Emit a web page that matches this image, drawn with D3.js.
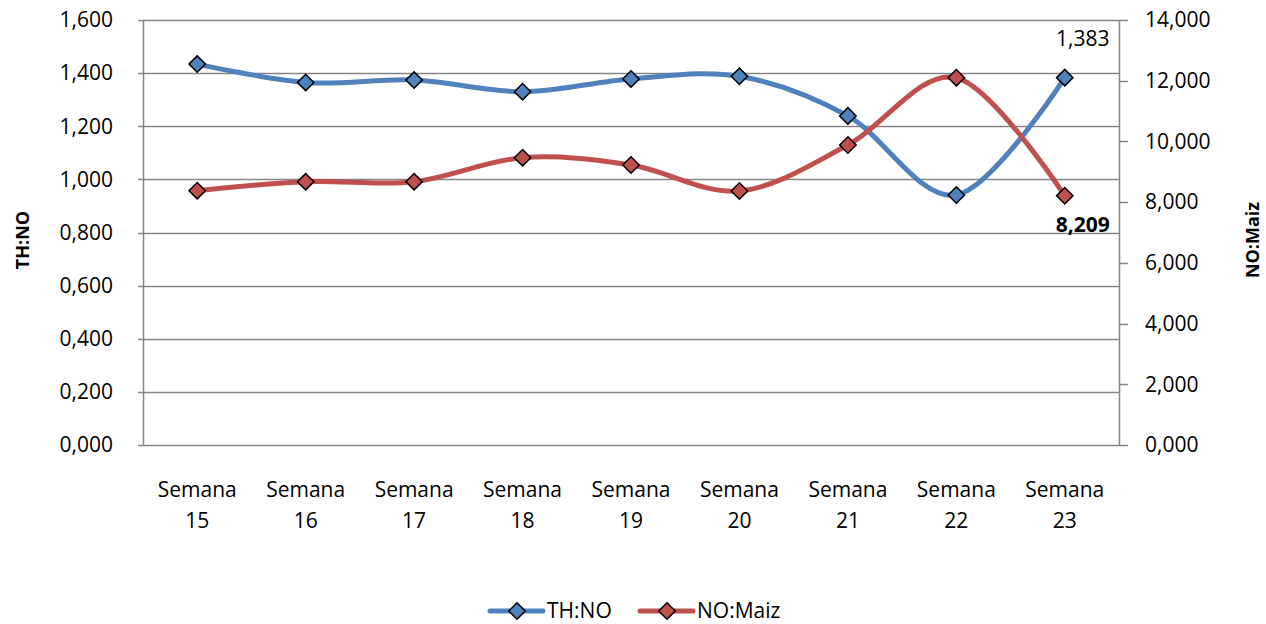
<!DOCTYPE html>
<html lang="en">
<head>
	<meta http-equiv="Content-type" content="text/html" charset="UTF-8">
	<title>TH:NO / NO:Maiz</title>
	<script src="https://d3js.org/d3.v7.min.js"></script>
	<style>
		html, body {
			margin: 0;
			padding: 0;
			background: #fff;
		}
		body {
			width: 1266px;
			height: 624px;
			overflow: hidden;
			font-family: 'Open Sans', 'Noto Sans', sans-serif;
		}
		.tick-label {
			font-size: 21px;
			fill: #000;
		}
		.axis-title {
			font-size: 18px;
			font-weight: 700;
			fill: #000;
		}
		.grid line {
			stroke: #868686;
			stroke-width: 1.5px;
		}
	</style>
</head>
<body>
	<div id="chart"></div>
	<script>

	// data
	var categories = ['15', '16', '17', '18', '19', '20', '21', '22', '23'];
	var thNo = [1.434, 1.365, 1.374, 1.330, 1.378, 1.388, 1.239, 0.941, 1.383];
	var noMaiz = [8377, 8674, 8674, 9464, 9224, 8367, 9882, 12099, 8209];
	var leftTicks = [0, 0.2, 0.4, 0.6, 0.8, 1.0, 1.2, 1.4, 1.6];
	var leftTickLabels = ['0,000', '0,200', '0,400', '0,600', '0,800', '1,000', '1,200', '1,400', '1,600'];
	var rightTicks = [0, 2000, 4000, 6000, 8000, 10000, 12000, 14000];
	var rightTickLabels = ['0,000', '2,000', '4,000', '6,000', '8,000', '10,000', '12,000', '14,000'];

	var width = 1266,
	    height = 624;

	var plot = {left: 143, right: 1119, top: 20, bottom: 445};

	var blue = '#4f81bd',
	    red = '#c0504d',
	    axisGrey = '#868686';

	var svg = d3.select('#chart')
	.append('svg')
	.attr('width', width)
	.attr('height', height);

	var x = d3.scaleBand()
	.domain(categories)
	.range([plot.left, plot.right]);

	var yLeft = d3.scaleLinear()
	.domain([0, 1.6])
	.range([plot.bottom, plot.top]);

	var yRight = d3.scaleLinear()
	.domain([0, 14000])
	.range([plot.bottom, plot.top]);

	// gridlines (left axis ticks)
	var grid = svg.append('g').attr('class', 'grid');
	grid.selectAll('line')
	.data(leftTicks)
	.enter().append('line')
	.attr('x1', plot.left - 5)
	.attr('x2', plot.right)
	.attr('y1', function(d) { return Math.round(yLeft(d)) + 0.5; })
	.attr('y2', function(d) { return Math.round(yLeft(d)) + 0.5; });

	// left axis line
	svg.append('line')
	.attr('x1', plot.left + 0.5).attr('x2', plot.left + 0.5)
	.attr('y1', plot.top).attr('y2', plot.bottom + 0.5)
	.attr('stroke', axisGrey).attr('stroke-width', 1.5);

	// right axis line + ticks
	svg.append('line')
	.attr('x1', plot.right + 0.5).attr('x2', plot.right + 0.5)
	.attr('y1', plot.top).attr('y2', plot.bottom + 0.5)
	.attr('stroke', axisGrey).attr('stroke-width', 1.5);

	svg.append('g').selectAll('line')
	.data(rightTicks)
	.enter().append('line')
	.attr('x1', plot.right)
	.attr('x2', plot.right + 9)
	.attr('y1', function(d) { return Math.round(yRight(d)) + 0.5; })
	.attr('y2', function(d) { return Math.round(yRight(d)) + 0.5; })
	.attr('stroke', axisGrey).attr('stroke-width', 1.5);

	// left tick labels
	svg.append('g').selectAll('text')
	.data(leftTicks)
	.enter().append('text')
	.attr('class', 'tick-label')
	.attr('x', 113)
	.attr('y', function(d) { return yLeft(d); })
	.attr('dy', '0.35em')
	.attr('text-anchor', 'end')
	.text(function(d, i) { return leftTickLabels[i]; });

	// right tick labels
	svg.append('g').selectAll('text')
	.data(rightTicks)
	.enter().append('text')
	.attr('class', 'tick-label')
	.attr('x', 1145)
	.attr('y', function(d) { return yRight(d); })
	.attr('dy', '0.35em')
	.text(function(d, i) { return rightTickLabels[i]; });

	// category labels
	var catLabels = svg.append('g').selectAll('text')
	.data(categories)
	.enter().append('text')
	.attr('class', 'tick-label')
	.attr('text-anchor', 'middle')
	.attr('x', function(d) { return x(d) + x.bandwidth() / 2; })
	.attr('y', 497);
	catLabels.append('tspan').text('Semana');
	catLabels.append('tspan')
	.attr('x', function(d) { return x(d) + x.bandwidth() / 2; })
	.attr('dy', 31)
	.text(function(d) { return d; });

	// axis titles
	svg.append('text')
	.attr('class', 'axis-title')
	.attr('transform', 'translate(29,240) rotate(-90)')
	.attr('text-anchor', 'middle')
	.text('TH:NO');

	svg.append('text')
	.attr('class', 'axis-title')
	.attr('transform', 'translate(1259,240) rotate(-90)')
	.attr('text-anchor', 'middle')
	.text('NO:Maiz');

	var cx = function(i) { return x(categories[i]) + x.bandwidth() / 2; };

	var marker = d3.symbol().type(d3.symbolSquare).size(135);

	function drawSeries(values, scale, color) {
		var line = d3.line()
		.x(function(d, i) { return cx(i); })
		.y(function(d) { return scale(d); })
		.curve(d3.curveCardinal.tension(0));

		svg.append('path')
		.attr('d', line(values))
		.attr('fill', 'none')
		.attr('stroke', color)
		.attr('stroke-width', 5)
		.attr('stroke-linejoin', 'round');

		svg.append('g').selectAll('path')
		.data(values)
		.enter().append('path')
		.attr('d', marker)
		.attr('transform', function(d, i) { return 'translate(' + cx(i) + ',' + scale(d) + ') rotate(45)'; })
		.attr('fill', color)
		.attr('stroke', '#000')
		.attr('stroke-width', 1.5);
	}

	drawSeries(thNo, yLeft, blue);
	drawSeries(noMaiz, yRight, red);

	// data labels on last points
	var last = categories.length - 1;
	svg.append('text')
	.attr('class', 'tick-label')
	.attr('text-anchor', 'middle')
	.attr('x', cx(last) + 18)
	.attr('y', yLeft(thNo[last]) - 32)
	.text(d3.format('.3f')(thNo[last]).replace('.', ','));

	svg.append('text')
	.attr('class', 'tick-label')
	.attr('text-anchor', 'middle')
	.attr('font-weight', 700)
	.attr('x', cx(last) + 18)
	.attr('y', yRight(noMaiz[last]) + 36)
	.text(d3.format(',')(noMaiz[last]));

	// legend
	var legend = [
		{name: 'TH:NO', color: blue, x: 490},
		{name: 'NO:Maiz', color: red, x: 640}
	];
	var lg = svg.append('g').selectAll('g')
	.data(legend)
	.enter().append('g')
	.attr('transform', function(d) { return 'translate(' + d.x + ',611)'; });

	lg.append('line')
	.attr('x1', 0).attr('x2', 53)
	.attr('stroke', function(d) { return d.color; })
	.attr('stroke-width', 5)
	.attr('stroke-linecap', 'round');

	lg.append('path')
	.attr('d', marker)
	.attr('transform', 'translate(27,0) rotate(45)')
	.attr('fill', function(d) { return d.color; })
	.attr('stroke', '#000')
	.attr('stroke-width', 1.5);

	lg.append('text')
	.attr('class', 'tick-label')
	.attr('x', 57)
	.attr('dy', '0.35em')
	.text(function(d) { return d.name; });

	</script>
</body>
</html>
